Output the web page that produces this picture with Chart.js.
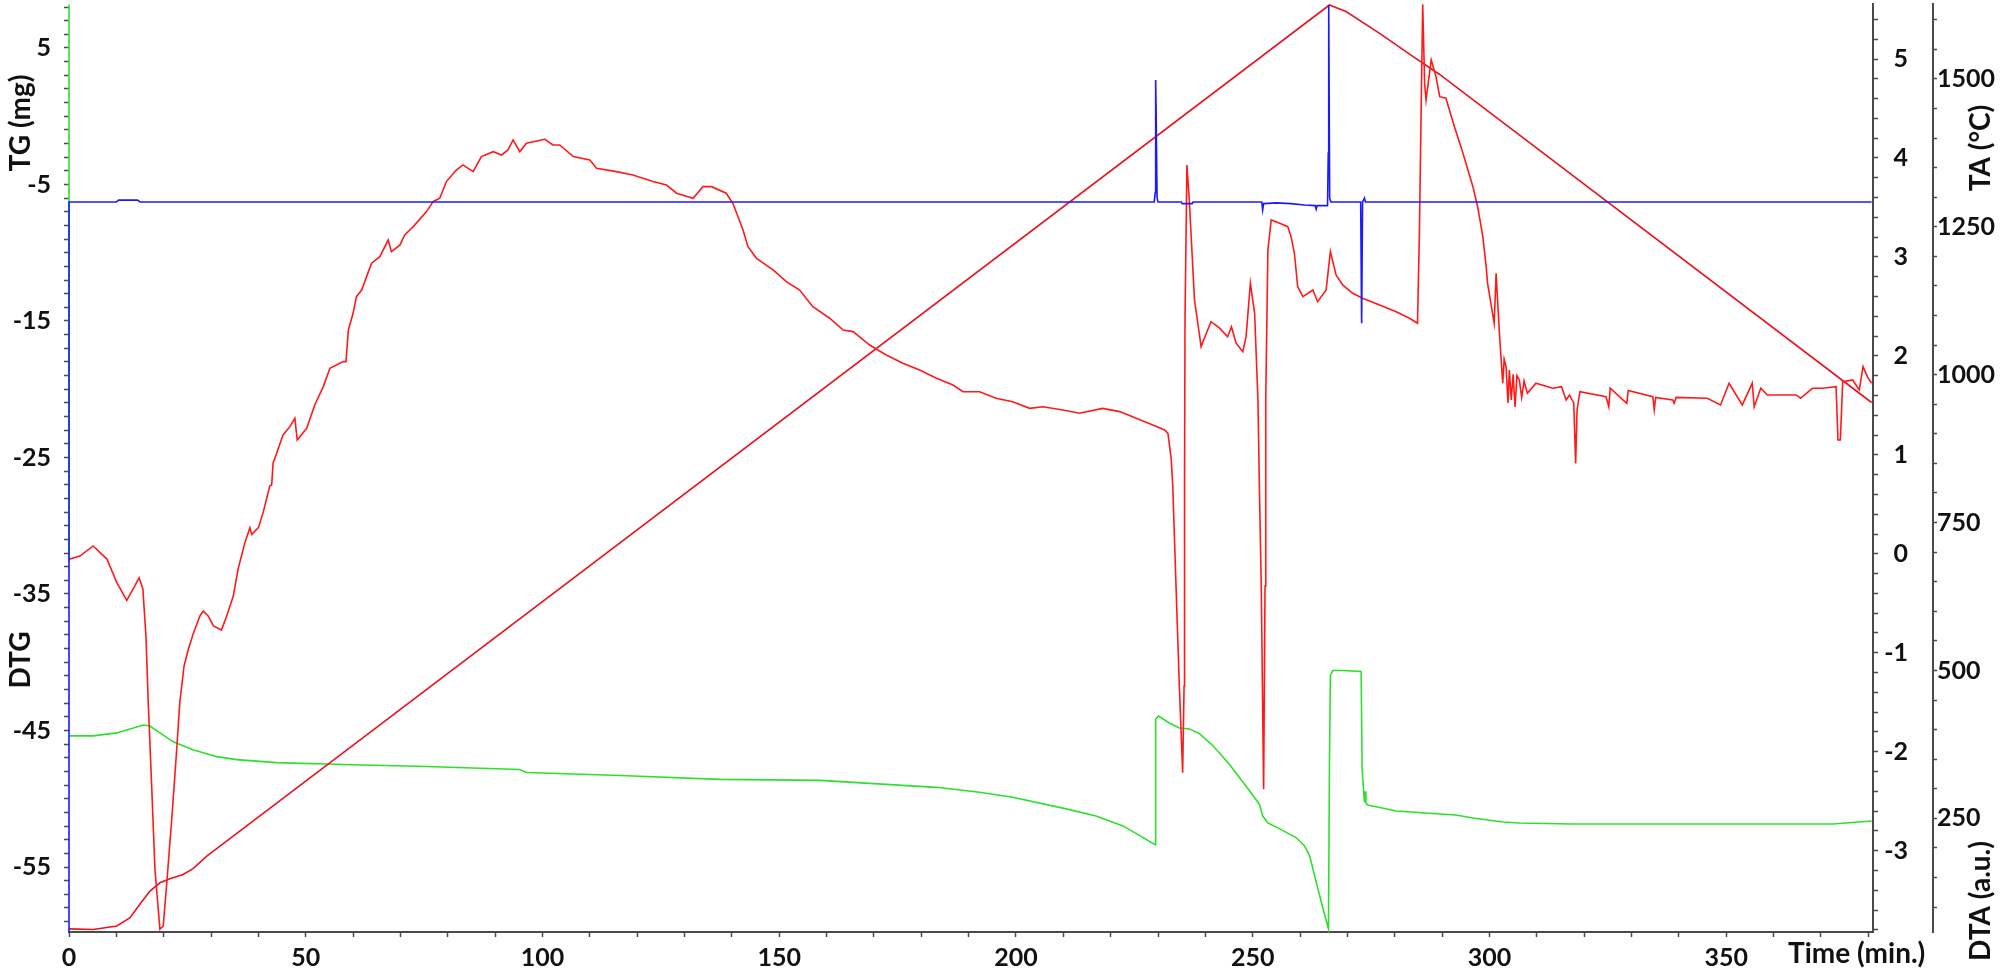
<!DOCTYPE html>
<html>
<head>
<meta charset="utf-8">
<script src="https://cdn.jsdelivr.net/npm/chart.js@4.4.1/dist/chart.umd.min.js"></script>
<style>
html,body{margin:0;padding:0;background:#ffffff;}
#wrap{width:2000px;height:972px;position:relative;}
</style>
</head>
<body>
<div id="wrap"><canvas id="c"></canvas></div>
<script>
// ---------------- DATA ----------------
// TG (mg) – red noisy curve, left axis
const tgTime = [0,2.3,5.1,8.0,10.1,12.2,13.9,14.8,15.6,16.25,16.74,17.46,18.15,19.2,19.9,20.6,21.7,22.7,23.4,24.3,25.2,26.2,27.65,28.35,29.4,30.5,32.2,33.3,34.7,35.7,37.15,38.2,38.6,40.0,41.0,42.4,42.8,43.1,43.85,45.2,46.65,47.7,48.2,50.2,51.9,53.7,55.1,57.9,58.5,59.0,60.0,60.7,61.8,62.85,63.9,65.65,67.4,68.1,69.9,70.9,72.7,75.5,76.9,78.3,79.7,81.8,83.2,85.35,87.1,89.6,91.35,92.7,93.8,95.2,96.6,100.5,102.2,103.65,106.5,110.0,111.4,115.6,119.1,123.35,126.2,128.3,131.8,133.9,135.7,138.8,140.2,141.3,142.35,143.4,145.2,148.7,151.5,154.3,157.1,160.65,163.5,165.6,169.1,172.6,176.1,179.65,183.2,186.7,188.8,192.3,195.8,199.3,202.9,205.7,209.9,213.4,218.3,221.9,225.4,228.9,231.4,232.1,232.8,233.1,233.8,234.5,235.2,235.5,235.6,235.7,236.1,236.6,237.7,239.1,240.2,241.2,243.0,244.7,245.5,246.5,247.9,248.6,249.5,250.4,251.1,251.4,251.8,252.3,252.6,252.7,252.8,253.2,253.9,255.7,257.4,258.1,258.8,259.5,260.6,262.7,263.7,265.5,266.4,267.6,269.0,271.1,273.2,276.8,280.3,283.1,284.8,285.2,285.6,285.9,286.3,286.6,287.7,288.7,289.5,290.8,292.6,294.4,296.5,297.5,298.6,299.3,299.6,301.0,301.4,302.1,302.8,303.1,303.5,303.9,304.2,304.6,305.0,305.4,305.8,306.3,306.8,307.3,308.0,309.8,313.4,315.2,316.2,316.9,317.8,318.2,318.5,319.1,324.6,325.2,325.5,329.0,329.3,334.5,334.8,335.1,338.7,339.0,339.4,346.0,348.8,350.6,353.4,355.5,355.9,357.3,358.7,364.8,365.7,368.2,370.3,373.2,373.6,374.1,374.6,376.7,378.1,378.9,379.8,380.7];
const tgValue = [-32.46,-32.22,-31.48,-32.44,-34.17,-35.46,-34.41,-33.81,-34.63,-38.08,-42.96,-49.07,-55.15,-59.56,-59.32,-56.39,-51.48,-46.63,-42.96,-40.27,-39.05,-37.95,-36.61,-36.25,-36.61,-37.34,-37.64,-36.61,-35.15,-33.19,-31.24,-30.14,-30.63,-30.14,-29.04,-27.09,-27.01,-25.42,-24.69,-23.35,-22.74,-22.13,-23.72,-22.86,-21.15,-19.81,-18.47,-17.98,-17.98,-15.66,-14.44,-13.22,-12.73,-11.75,-10.77,-10.29,-9.07,-9.92,-9.43,-8.7,-8.09,-6.99,-6.26,-6.01,-4.79,-3.94,-3.57,-4.06,-2.96,-2.6,-2.84,-2.47,-1.74,-2.6,-1.98,-1.69,-2.11,-2.11,-2.96,-3.21,-3.81,-4.06,-4.3,-4.79,-5.04,-5.64,-6.01,-5.16,-5.16,-5.64,-6.38,-7.36,-8.33,-9.56,-10.41,-11.26,-12.12,-12.73,-13.95,-14.8,-15.66,-15.78,-16.76,-17.49,-18.1,-18.59,-19.2,-19.69,-20.18,-20.18,-20.66,-20.91,-21.4,-21.28,-21.52,-21.76,-21.4,-21.64,-22.13,-22.62,-22.99,-23.23,-25.18,-27.01,-34.41,-41.74,-48.09,-41.74,-27.0,-14.93,-3.57,-6.14,-13.46,-16.88,-15.9,-15.05,-15.53,-16.15,-15.42,-16.63,-17.25,-16.15,-12.24,-14.44,-20.79,-27.01,-34.41,-49.31,-34.41,-27.0,-20.79,-9.8,-7.6,-7.84,-8.09,-8.82,-10.04,-12.49,-13.22,-12.73,-13.59,-12.73,-9.92,-11.63,-12.36,-12.97,-13.34,-13.83,-14.32,-14.8,-15.17,-8.58,1.19,8.2,2.41,1.19,4.12,2.9,1.43,1.32,-0.77,-2.71,-5.16,-6.63,-8.82,-11.02,-12.24,-15.17,-11.5,-15.9,-19.56,-17.8,-18.35,-21.0,-18.6,-20.79,-18.9,-21.3,-19.0,-19.32,-20.6,-19.4,-20.3,-19.56,-19.93,-19.81,-20.79,-20.42,-21.0,-25.43,-21.5,-20.18,-20.55,-21.28,-19.93,-21.03,-20.1,-20.55,-21.52,-20.6,-20.79,-21.03,-20.6,-20.66,-21.15,-19.56,-21.15,-19.56,-21.28,-19.93,-20.42,-20.42,-20.66,-19.93,-19.93,-19.81,-23.72,-23.72,-19.45,-19.32,-20.05,-18.35,-19.08,-19.56];

// DTG – blue curve, left axis
const dtgTime = [0,0,10,10.5,14.5,15,229.2,229.4,229.5,229.6,229.8,230.0,234.9,235.1,237.2,237.4,251.9,252.1,252.3,255.0,258.0,261.0,263.2,263.4,263.6,265.8,265.95,266.05,266.25,266.5,272.8,273.0,273.2,273.6,273.8,380.7];
const dtgValue = [-59.76,-6.28,-6.28,-6.15,-6.15,-6.28,-6.28,-5.6,2.66,0.24,-6.0,-6.28,-6.28,-6.4,-6.4,-6.28,-6.28,-6.87,-6.4,-6.35,-6.4,-6.5,-6.55,-6.82,-6.55,-6.55,-2.7,8.15,-6.0,-6.28,-6.28,-15.17,-6.28,-6.0,-6.28,-6.28];

// DTA (a.u.) – green curve, inner right axis
const dtaTime = [0,0,0,0,5.1,10.1,13.6,15.7,17.1,19.2,22.0,26.2,31.2,35.4,43.8,57.9,75.5,95.2,96.6,116.4,137.5,158.6,172.6,183.2,192.3,199.3,209.9,216.9,222.6,229.4,229.5,230.1,232.4,234.5,236.7,238.8,241.6,245.1,248.6,251.4,252.1,253.2,255.7,259.2,260.9,262.0,263.0,264.8,266.0,266.2,266.4,266.9,269.0,272.9,273.1,273.6,273.7,273.8,273.9,274.3,280.3,289.5,292.9,296.5,302.8,306.3,317.6,372.5,380.7];
const dtaValue = [5.55,-0.09,null,-1.84,-1.84,-1.81,-1.76,-1.73,-1.74,-1.81,-1.90,-1.98,-2.05,-2.08,-2.11,-2.13,-2.15,-2.18,-2.21,-2.24,-2.28,-2.29,-2.33,-2.36,-2.41,-2.46,-2.57,-2.65,-2.75,-2.94,-1.67,-1.64,-1.71,-1.76,-1.77,-1.82,-1.94,-2.13,-2.35,-2.53,-2.65,-2.72,-2.78,-2.87,-2.95,-3.05,-3.24,-3.58,-3.79,-2.14,-1.23,-1.18,-1.18,-1.19,-2.18,-2.51,-2.51,-2.40,-2.52,-2.54,-2.60,-2.63,-2.64,-2.67,-2.71,-2.72,-2.73,-2.73,-2.70];

// TA (°C) – temperature programme, outer right axis
const taTime = [0,5.1,10.1,12.9,15.0,17.1,19.2,21.3,24.1,26.2,29.1,266.2,269.7,276.8,283.8,289.4,380.7];
const taValue = [63,62,68,82,105,127,141,148,155,165,186,1625,1614,1577,1538,1508,953];

// tick labels
const timeLabels = [0,50,100,150,200,250,300,350];
const tgLabels = [5,-5,-15,-25,-35,-45,-55];
const dtaLabels = [5,4,3,2,1,0,-1,-2,-3];
const taLabels = [250,500,750,1000,1250,1500];

// minor tick positions
const timeMinor = []; for (let v = 0; v <= 380; v += 10) timeMinor.push(v);
const tgMinor = []; for (let v = -59; v <= 8; v += 1) tgMinor.push(v);
const dtaMinor = []; for (let k = -19; k <= 27; k++) dtaMinor.push(Math.round(k * 2) / 10);
const taMinor = []; for (let v = 100; v <= 1600; v += 50) taMinor.push(v);

// ---------------- CHART ----------------
const pts = (xs, ys) => xs.map((x, i) => ({x: x, y: ys[i]}));
const FONT = 'Lato';
const tickFont = {family: FONT, size: 25, weight: 'bold'};
const INK = '#111111';
const AXIS = '#4a4a4a';

const noPad = s => { s.paddingTop = 0; s.paddingBottom = 0; s.paddingLeft = 0; s.paddingRight = 0; };

const titles = {
  id: 'titles',
  afterDraw(chart) {
    const ctx = chart.ctx;
    ctx.save();
    ctx.fillStyle = INK;
    // right-aligned labels of the inner right (DTA) axis
    const sd = chart.scales.yDTA;
    ctx.font = 'bold 25px ' + FONT;
    ctx.textAlign = 'right';
    ctx.textBaseline = 'middle';
    dtaLabels.forEach(v => ctx.fillText(String(v), sd.left + 35, sd.getPixelForValue(v)));
    // axis titles
    ctx.font = 'bold 28px ' + FONT;
    ctx.textAlign = 'center';
    const rot = (t, x, y) => { ctx.save(); ctx.translate(x, y); ctx.rotate(-Math.PI / 2); ctx.fillText(t, 0, 0); ctx.restore(); };
    rot('TG (mg)', 21, 123);
    rot('DTG', 21, 660);
    rot('TA (°C)', 1981, 148);
    rot('DTA (a.u.)', 1981, 901);
    ctx.textAlign = 'left';
    ctx.textBaseline = 'alphabetic';
    ctx.fillText('Time (min.)', 1788, 963);
    ctx.restore();
  }
};

const line = (label, data, color, axis) => ({
  label: label, data: data, yAxisID: axis, borderColor: color, backgroundColor: color,
  borderWidth: 1.6, pointRadius: 0, fill: false, tension: 0, clip: 4, spanGaps: false
});

new Chart(document.getElementById('c'), {
  type: 'line',
  data: {
    datasets: [
      line('DTG', pts(dtgTime, dtgValue), '#1a1aff', 'y'),
      line('TG (mg)', pts(tgTime, tgValue), '#ff1a1a', 'y'),
      line('TA (°C)', pts(taTime, taValue), '#e8141e', 'yTA'),
      line('DTA (a.u.)', pts(dtaTime, dtaValue), '#2de02d', 'yDTA')
    ]
  },
  options: {
    responsive: true,
    maintainAspectRatio: false,
    animation: false,
    events: [],
    layout: {padding: {top: 4, left: 0, right: 0, bottom: 0}},
    plugins: {legend: {display: false}, tooltip: {enabled: false}, title: {display: false}},
    scales: {
      x: {
        type: 'linear', position: 'bottom', min: 0, max: 381,
        afterBuildTicks: s => { s.ticks = timeMinor.map(v => ({value: v})); },
        afterFit: s => { s.height = 40; noPad(s); },
        grid: {drawOnChartArea: false, drawTicks: true, tickLength: 5, tickColor: AXIS, tickWidth: 1.5},
        border: {display: true, color: AXIS, width: 2},
        ticks: {autoSkip: false, maxRotation: 0, minRotation: 0, padding: 6, color: INK, font: tickFont,
          callback: v => timeLabels.includes(Math.round(v)) ? String(Math.round(v)) : ''}
      },
      y: {
        type: 'linear', position: 'left', min: -59.76, max: 8.22,
        afterBuildTicks: s => { s.ticks = tgMinor.map(v => ({value: v})); },
        afterFit: s => { s.width = 69; noPad(s); },
        grid: {drawOnChartArea: false, drawTicks: true, tickLength: 5, tickColor: AXIS, tickWidth: 1.5},
        border: {display: false},
        ticks: {autoSkip: false, padding: 13, color: INK, font: tickFont,
          callback: v => tgLabels.includes(Math.round(v)) ? String(Math.round(v)) : ''}
      },
      yDTA: {
        type: 'linear', position: 'right', weight: 0, min: -3.822, max: 5.556,
        afterBuildTicks: s => { s.ticks = dtaMinor.map(v => ({value: v})); },
        afterFit: s => { s.width = 60; noPad(s); },
        grid: {drawOnChartArea: false, drawTicks: true, tickLength: 5, tickColor: AXIS, tickWidth: 1.5},
        border: {display: true, color: AXIS, width: 2},
        ticks: {autoSkip: false, padding: 7, color: INK, font: tickFont, callback: v => ''}
      },
      yTA: {
        type: 'linear', position: 'right', weight: 1, min: 57.8, max: 1626.7,
        afterBuildTicks: s => { s.ticks = taMinor.map(v => ({value: v})); },
        afterFit: s => { s.width = 67; noPad(s); },
        grid: {drawOnChartArea: false, drawTicks: true, tickLength: 4, tickColor: AXIS, tickWidth: 1.5},
        border: {display: true, color: AXIS, width: 2},
        ticks: {autoSkip: false, padding: 0, color: INK, font: tickFont,
          callback: v => taLabels.includes(Math.round(v)) ? String(Math.round(v)) : ''}
      }
    }
  },
  plugins: [titles]
});
</script>
</body>
</html>
